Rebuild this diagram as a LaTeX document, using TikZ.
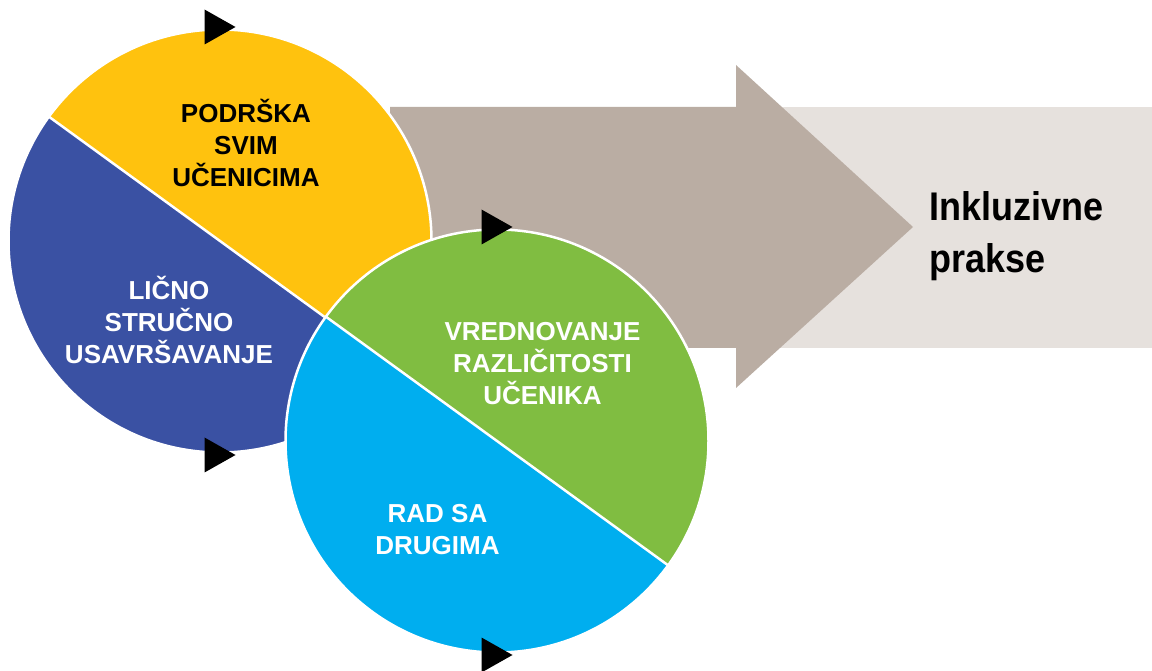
\documentclass[tikz,border=0pt]{standalone}
\usepackage{fontspec}
\setmainfont{Liberation Sans}
\usetikzlibrary{calc}

\definecolor{ylw}{HTML}{FFC20E}
\definecolor{blu}{HTML}{3A51A3}
\definecolor{grn}{HTML}{80BD41}
\definecolor{cyn}{HTML}{00AEEF}
\definecolor{taupe}{HTML}{BAADA3}
\definecolor{pale}{HTML}{E6E1DD}

\tikzstyle{seam}=[white,line width=2.5pt]
\tikzstyle{marker}=[fill=black]
\tikzstyle{caption}=[font=\fontsize{26}{32}\selectfont\bfseries,align=center,inner sep=0pt]

\begin{document}
\begin{tikzpicture}[x=1pt,y=1pt]
	\useasboundingbox (0,0) rectangle (1152,670);
	\coordinate (L) at (220,429);
	\coordinate (R) at (497,229);
%
	\fill[pale] (736,322) rectangle (1152,563);
	\fill[taupe] (390,322) -- (736,322) -- (736,282) -- (913,443)
				-- (736,605) -- (736,563) -- (390,563) -- cycle;
%
	\fill[ylw] (L) ++(-36:211.5) arc[start angle=-36,end angle=144,radius=211.5] -- cycle;
	\fill[blu] (L) ++(144:211.5) arc[start angle=144,end angle=324,radius=211.5] -- cycle;
	\draw[seam] (L) circle[radius=211.5];
	\draw[seam] (L) ++(144:211.5) -- ++(-36:423);
%
	\fill[grn] (R) ++(-36:211.5) arc[start angle=-36,end angle=144,radius=211.5] -- cycle;
	\fill[cyn] (R) ++(144:211.5) arc[start angle=144,end angle=324,radius=211.5] -- cycle;
	\draw[seam] (R) circle[radius=211.5];
	\draw[seam] (R) ++(144:211.5) -- ++(-36:423);
%
	\foreach \c in {L,R}{
		\fill[marker] ($(\c)+(-15.5,231.5)$) -- ++(31,-17.5) -- ++(-31,-17.5) -- cycle;
		\fill[marker] ($(\c)+(-15.5,-196.5)$) -- ++(31,-17.5) -- ++(-31,-17.5) -- cycle;
	}
%
	\node[caption] (support) at (246,527) {PODRŠKA\\SVIM\\UČENICIMA};
	\node[caption,white] (growth) at (169,350.5) {LIČNO\\STRUČNO\\USAVRŠAVANJE};
	\node[caption,white] (diversity) at (542.5,306) {VREDNOVANJE\\RAZLIČITOSTI\\UČENIKA};
	\node[caption,white] (others) at (437.5,140.5) {RAD SA\\DRUGIMA};
	\node[font=\fontsize{40}{52}\selectfont\bfseries,align=left,inner sep=0pt,anchor=west]
		(practice) at (929,434) {\scalebox{0.9}[1]{Inkluzivne}\\\scalebox{0.9}[1]{prakse}};
\end{tikzpicture}
\end{document}
